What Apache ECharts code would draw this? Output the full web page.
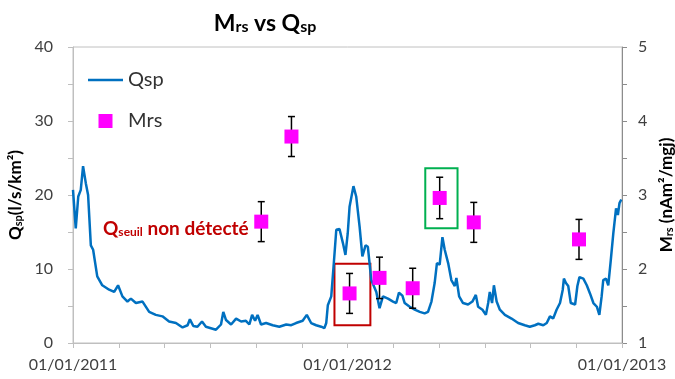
<!DOCTYPE html>
<html>
<head>
    <meta charset="utf-8">
    <title>Mrs vs Qsp</title>
    <script src="https://cdn.jsdelivr.net/npm/echarts@6/dist/echarts.min.js"></script>
    <style>
        html, body { margin: 0; padding: 0; background: #fff; }
        #chart { width: 675px; height: 379px; }
    </style>
</head>
<body>
    <div id="chart"></div>
    <script>
        // x en mois depuis le 01/01/2011
        var qspMonths = [0.00, 0.12, 0.23, 0.34, 0.44, 0.56, 0.66, 0.78, 0.88, 1.06, 1.28, 1.58, 1.80, 1.97, 2.16, 2.38, 2.53, 2.75, 3.04, 3.33,
            3.62, 3.91, 4.20, 4.50, 4.79, 5.01, 5.11, 5.26, 5.44, 5.64, 5.81, 6.03, 6.25, 6.47, 6.57, 6.69, 6.91, 7.13, 7.35, 7.56,
            7.71, 7.83, 7.96, 8.07, 8.22, 8.44, 8.73, 9.02, 9.32, 9.54, 9.75, 10.04, 10.22, 10.41, 10.63, 10.85, 10.99, 11.07, 11.14, 11.29,
            11.39, 11.51, 11.65, 11.80, 11.91, 12.01, 12.09, 12.26, 12.38, 12.53, 12.65, 12.79, 12.89, 13.04, 13.26, 13.40, 13.55, 13.77, 13.99, 14.13,
            14.25, 14.40, 14.50, 14.72, 14.94, 15.16, 15.37, 15.52, 15.67, 15.81, 15.91, 16.03, 16.15, 16.25, 16.40, 16.54, 16.69, 16.76, 16.88, 17.05,
            17.27, 17.46, 17.61, 17.71, 17.90, 18.05, 18.15, 18.22, 18.32, 18.40, 18.52, 18.66, 18.88, 19.17, 19.46, 19.75, 19.97, 20.19, 20.34, 20.56,
            20.71, 20.85, 20.99, 21.14, 21.29, 21.41, 21.46, 21.55, 21.65, 21.76, 21.95, 22.05, 22.14, 22.31, 22.46, 22.60, 22.75, 22.90, 23.01, 23.11,
            23.18, 23.30, 23.40, 23.51, 23.62, 23.74, 23.82, 23.89, 23.97];
        var qspValues = [20.7, 15.5, 19.8, 20.7, 23.9, 21.6, 20.0, 13.2, 12.6, 9.0, 7.8, 7.2, 6.9, 7.8, 6.3, 5.6, 6.0, 5.4, 5.6, 4.2,
            3.8, 3.6, 2.9, 2.7, 2.1, 2.4, 3.2, 2.3, 2.2, 2.9, 2.2, 2.0, 1.8, 2.5, 4.2, 3.1, 2.5, 3.3, 2.9, 3.0,
            2.5, 3.8, 3.0, 3.8, 2.5, 2.7, 2.4, 2.2, 2.5, 2.4, 2.7, 3.0, 3.8, 2.7, 2.4, 2.2, 2.0, 2.7, 5.1, 6.3,
            10.3, 15.3, 15.4, 13.5, 11.9, 14.8, 18.4, 21.2, 19.8, 15.7, 11.7, 13.2, 13.0, 8.5, 6.9, 4.7, 6.3, 6.0, 5.6, 5.4,
            6.8, 6.4, 5.4, 4.9, 4.5, 4.2, 4.0, 4.2, 5.6, 8.1, 10.8, 10.6, 14.3, 12.6, 10.8, 8.5, 7.7, 8.8, 6.3, 5.4,
            5.2, 5.6, 6.5, 4.9, 4.5, 3.8, 5.4, 6.9, 5.4, 7.8, 5.6, 4.5, 3.8, 3.3, 2.7, 2.4, 2.2, 2.4, 2.6, 2.4,
            2.7, 3.6, 3.3, 4.5, 5.4, 7.2, 8.7, 8.1, 7.7, 5.4, 5.2, 7.7, 8.9, 8.7, 7.8, 6.7, 5.4, 4.9, 3.8, 6.3,
            8.5, 8.7, 7.8, 11.2, 14.8, 18.2, 17.3, 18.9, 19.4];

        var mrsMonths = [8.23, 9.55, 12.09, 13.40, 14.85, 16.03, 17.52, 22.12];
        var mrsValues = [2.64, 3.79, 1.67, 1.88, 1.74, 2.96, 2.63, 2.40];
        var mrsErr = [0.27, 0.27, 0.27, 0.28, 0.27, 0.28, 0.27, 0.27];

        var xLabels = { 0: '01/01/2011', 12: '01/01/2012', 24: '01/01/2013' };

        // cadres rouge / vert (mois, Mrs)
        var redBox = [[11.43, 2.07], [13.0, 1.24]];
        var greenBox = [[15.40, 3.36], [16.81, 2.55]];

        var font = 'Lato';
        var myChart = echarts.init(document.getElementById('chart'));

        var qspData = qspMonths.map(function (m, i) { return [m, qspValues[i]]; });
        var mrsData = mrsMonths.map(function (m, i) { return [m, mrsValues[i]]; });
        var errData = mrsMonths.map(function (m, i) { return [m, mrsValues[i], mrsErr[i]]; });

        function subRich(size, subSize, lh, color) {
            return {
                b: { fontFamily: font, fontSize: size, fontWeight: 'bold', color: color, lineHeight: lh, verticalAlign: 'bottom' },
                s: { fontFamily: font, fontSize: subSize, fontWeight: 'bold', color: color, lineHeight: subSize, verticalAlign: 'bottom' }
            };
        }

        var option = {
            backgroundColor: '#fff',
            animation: false,
            textStyle: { fontFamily: font },
            title: {
                text: '{b|M}{s|rs}{b| vs Q}{s|sp}',
                left: 260,
                top: 0,
                textAlign: 'center',
                textStyle: { rich: subRich(23, 16, 30, '#000') }
            },
            legend: {
                data: [
                    { name: 'Qsp', icon: 'path://M0,0L35,0L35,2.5L0,2.5Z' },
                    { name: 'Mrs', icon: 'path://M0,0L14,0L14,14L0,14Z' }
                ],
                orient: 'vertical',
                left: 88,
                top: 70,
                padding: 0,
                itemWidth: 35,
                itemHeight: 14,
                itemGap: 21,
                textStyle: { fontFamily: font, fontSize: 20, color: '#333' }
            },
            grid: {
                left: 73, right: 53, top: 47, bottom: 36,
                containLabel: false,
                outerBoundsMode: 'none',
                show: true, borderColor: '#c0c0c0', borderWidth: 1
            },
            xAxis: {
                type: 'value',
                min: 0, max: 24, interval: 2,
                splitLine: { show: false },
                axisLine: { lineStyle: { color: '#bfbfbf' } },
                axisTick: { show: true, length: 5, lineStyle: { color: '#bfbfbf' } },
                axisLabel: {
                    margin: 14, fontSize: 16, color: '#404040', fontFamily: font,
                    showMinLabel: true, showMaxLabel: true,
                    formatter: function (v) { return xLabels[v] || ''; }
                }
            },
            yAxis: [{
                type: 'value',
                min: 0, max: 40, interval: 10,
                splitLine: { show: false },
                axisLine: { show: true, lineStyle: { color: '#bfbfbf' } },
                axisTick: { show: true, length: 5, lineStyle: { color: '#bfbfbf' } },
                minorTick: { show: true, splitNumber: 2, length: 5, lineStyle: { color: '#bfbfbf' } },
                axisLabel: { margin: 20, fontSize: 16, color: '#404040', fontFamily: font },
                name: '{b|Q}{s|sp}{b|(l/s/km²)}',
                nameLocation: 'middle',
                nameGap: 31,
                nameTextStyle: { rich: subRich(17, 11, 22, '#000') }
            }, {
                type: 'value',
                position: 'right',
                min: 1, max: 5, interval: 1,
                splitLine: { show: false },
                axisLine: { show: true, lineStyle: { color: '#8c8c8c' } },
                axisTick: { show: true, length: 5, lineStyle: { color: '#8c8c8c' } },
                minorTick: { show: true, splitNumber: 2, length: 5, lineStyle: { color: '#8c8c8c' } },
                axisLabel: { margin: 16, fontSize: 16, color: '#404040', fontFamily: font },
                name: '{b|M}{s|rs}{b| (nAm²/mgj)}',
                nameLocation: 'middle',
                nameGap: 31,
                nameTextStyle: { rich: subRich(17, 11, 22, '#000') }
            }],
            graphic: [{
                type: 'text',
                left: 103,
                top: 219,
                style: {
                    text: '{b|Q}{s|seuil}{b| non détecté}',
                    rich: {
                        b: { fontFamily: font, fontSize: 19, fontWeight: 'bold', fill: '#C00000', lineHeight: 24, verticalAlign: 'bottom' },
                        s: { fontFamily: font, fontSize: 12, fontWeight: 'bold', fill: '#C00000', lineHeight: 12, verticalAlign: 'bottom' }
                    }
                }
            }],
            series: [{
                name: 'Qsp',
                type: 'line',
                data: qspData,
                symbol: 'none',
                lineStyle: { width: 2.5, color: '#0070C0' },
                itemStyle: { color: '#0070C0' },
                z: 2
            }, {
                name: 'err',
                type: 'custom',
                yAxisIndex: 1,
                data: errData,
                z: 3,
                renderItem: function (params, api) {
                    var x = api.value(0), y = api.value(1), e = api.value(2);
                    var top = api.coord([x, y + e]);
                    var bot = api.coord([x, y - e]);
                    var w = 3.5;
                    var st = { stroke: '#000', lineWidth: 1.5 };
                    return {
                        type: 'group',
                        children: [
                            { type: 'line', shape: { x1: top[0], y1: top[1], x2: bot[0], y2: bot[1] }, style: st },
                            { type: 'line', shape: { x1: top[0] - w, y1: top[1], x2: top[0] + w, y2: top[1] }, style: st },
                            { type: 'line', shape: { x1: bot[0] - w, y1: bot[1], x2: bot[0] + w, y2: bot[1] }, style: st }
                        ]
                    };
                }
            }, {
                name: 'Mrs',
                type: 'scatter',
                yAxisIndex: 1,
                data: mrsData,
                symbol: 'rect',
                symbolSize: 14,
                itemStyle: { color: '#FF00FF', opacity: 1 },
                z: 4,
                markArea: {
                    silent: true,
                    data: [
                        [{ coord: redBox[0], itemStyle: { color: 'rgba(0,0,0,0)', borderColor: '#C00000', borderWidth: 2 } }, { coord: redBox[1] }],
                        [{ coord: greenBox[0], itemStyle: { color: 'rgba(0,0,0,0)', borderColor: '#00B050', borderWidth: 2 } }, { coord: greenBox[1] }]
                    ]
                }
            }]
        };

        myChart.setOption(option);
    </script>
</body>
</html>
